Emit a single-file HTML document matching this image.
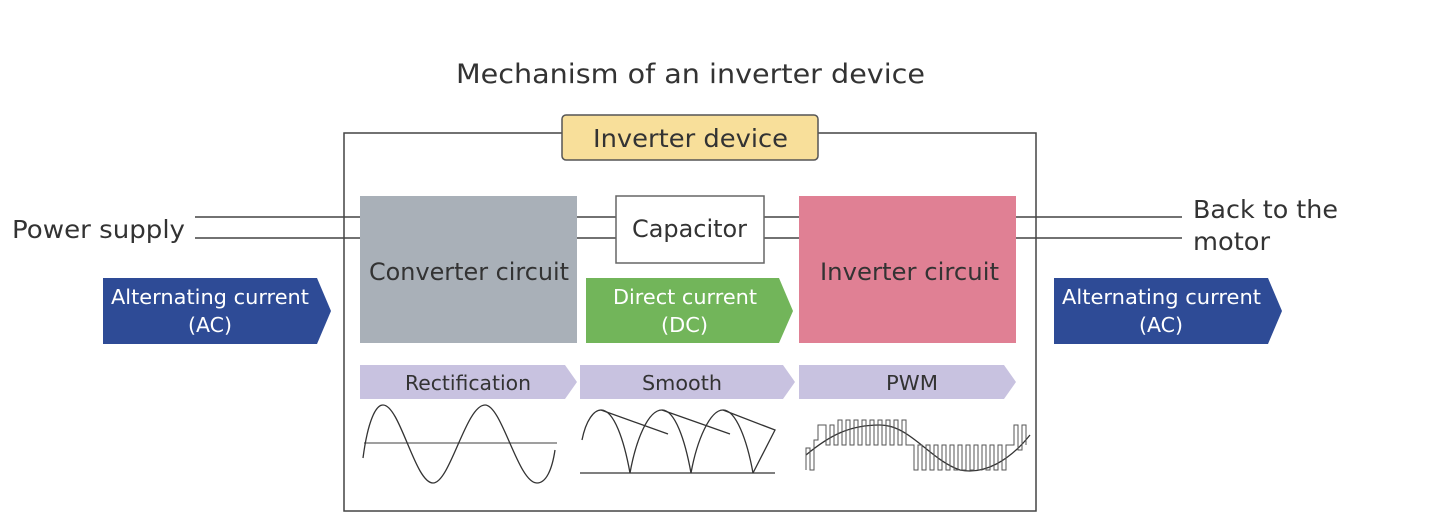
<!DOCTYPE html>
<html><head><meta charset="utf-8"><style>
body{margin:0;background:#fff;}
svg{display:block;font-family:"DejaVu Sans","Liberation Sans",sans-serif;}
</style></head><body>
<svg width="1453" height="524" viewBox="0 0 1453 524" xmlns="http://www.w3.org/2000/svg">
<text x="456" y="83" font-size="27" fill="#333" textLength="469" lengthAdjust="spacingAndGlyphs">Mechanism of an inverter device</text>
<rect x="344" y="133" width="692" height="378" fill="none" stroke="#444" stroke-width="1.5"/>
<rect x="562" y="115" width="256" height="45" rx="4" fill="#f8df9a" stroke="#555" stroke-width="1.5"/>
<text x="593" y="147" font-size="25" fill="#333" textLength="195" lengthAdjust="spacingAndGlyphs">Inverter device</text>
<g stroke="#444" stroke-width="1.5">
<line x1="195" y1="217" x2="360" y2="217"/><line x1="195" y1="238" x2="360" y2="238"/>
<line x1="577" y1="217" x2="616" y2="217"/><line x1="577" y1="238" x2="616" y2="238"/>
<line x1="764" y1="217" x2="799" y2="217"/><line x1="764" y1="238" x2="799" y2="238"/>
<line x1="1016" y1="217" x2="1182" y2="217"/><line x1="1016" y1="238" x2="1182" y2="238"/>
</g>
<text x="12" y="238" font-size="25" fill="#333" textLength="173" lengthAdjust="spacingAndGlyphs">Power supply</text>
<text x="1193" y="218" font-size="25" fill="#333" textLength="145" lengthAdjust="spacingAndGlyphs">Back to the</text>
<text x="1193" y="250" font-size="25" fill="#333" textLength="77" lengthAdjust="spacingAndGlyphs">motor</text>
<rect x="360" y="196" width="217" height="147" fill="#a9b0b8"/>
<text x="369" y="280" font-size="24" fill="#333" textLength="200" lengthAdjust="spacingAndGlyphs">Converter circuit</text>
<rect x="616" y="196" width="148" height="67" fill="#fff" stroke="#666" stroke-width="1.5"/>
<text x="632" y="237" font-size="24" fill="#333" textLength="115" lengthAdjust="spacingAndGlyphs">Capacitor</text>
<rect x="799" y="196" width="217" height="147" fill="#e08094"/>
<text x="820" y="280" font-size="24" fill="#333" textLength="179" lengthAdjust="spacingAndGlyphs">Inverter circuit</text>
<polygon points="103,278 317,278 331,311 317,344 103,344" fill="#2e4b96"/>
<text x="111" y="304" font-size="20" fill="#fff" textLength="198" lengthAdjust="spacingAndGlyphs">Alternating current</text>
<text x="188" y="332" font-size="20" fill="#fff" textLength="44" lengthAdjust="spacingAndGlyphs">(AC)</text>
<polygon points="1054,278 1268,278 1282,311 1268,344 1054,344" fill="#2e4b96"/>
<text x="1062" y="304" font-size="20" fill="#fff" textLength="199" lengthAdjust="spacingAndGlyphs">Alternating current</text>
<text x="1139" y="332" font-size="20" fill="#fff" textLength="44" lengthAdjust="spacingAndGlyphs">(AC)</text>
<polygon points="586,278 779,278 793,311 779,343 586,343" fill="#72b55a"/>
<text x="613" y="304" font-size="20" fill="#fff" textLength="144" lengthAdjust="spacingAndGlyphs">Direct current</text>
<text x="661" y="332" font-size="20" fill="#fff" textLength="47" lengthAdjust="spacingAndGlyphs">(DC)</text>
<polygon points="360,365 565,365 577,382 565,399 360,399" fill="#c8c2e0"/>
<text x="405" y="390" font-size="20" fill="#333" textLength="126" lengthAdjust="spacingAndGlyphs">Rectification</text>
<polygon points="580,365 783,365 795,382 783,399 580,399" fill="#c8c2e0"/>
<text x="642" y="390" font-size="20" fill="#333" textLength="80" lengthAdjust="spacingAndGlyphs">Smooth</text>
<polygon points="799,365 1004,365 1016,382 1004,399 799,399" fill="#c8c2e0"/>
<text x="886" y="390" font-size="20" fill="#333" textLength="52" lengthAdjust="spacingAndGlyphs">PWM</text>
<g fill="none" stroke="#333" stroke-width="1.3">
<line x1="364" y1="443" x2="557" y2="443" stroke="#666"/>
<path d="M363,458 C368,420 376,405 383,405 C400,405 415,483 433,483 C450,483 466,405 485,405 C502,405 518,483 537,483 C546,483 552,470 555,450"/>
<line x1="580" y1="473" x2="775" y2="473"/>
<path d="M582,440 C586,420 594,410 601,410 C614,410 624,440 630,473 C636,440 648,410 662,410 C675,410 685,440 691,473 C697,440 710,410 723,410 C736,410 747,440 753,473"/>
<path d="M601,410 L668,434 M662,410 L730,434 M723,410 L775,430 L753,473"/>
<path d="M806,455 C830,435 850,425 880,425 C910,425 930,460 960,470 C985,475 1010,460 1030,435"/>
</g>
<g fill="none" stroke="#555" stroke-width="1">
<path d="M806,470 V448 H810 V470 H814 V440 H818 V425 H826 V445 H830 V425 H834 V445 H838 V420 H842 V445 H846 V420 H850 V445 H854 V420 H858 V445 H862 V420 H866 V445 H870 V420 H874 V445 H878 V420 H882 V445 H886 V420 H890 V445 H894 V420 H898 V445 H902 V420 H906 V445 H910 V445 H914 V470 H918 V445 H922 V470 H926 V445 H930 V470 H934 V445 H938 V470 H942 V445 H946 V470 H950 V445 H954 V470 H958 V445 H962 V470 H966 V445 H970 V470 H974 V445 H978 V470 H982 V445 H986 V470 H990 V445 H994 V470 H998 V445 H1002 V470 H1006 V445 H1014 V425 H1018 V450 H1022 V425 H1026 V445"/>
</g>
</svg>
</body></html>
